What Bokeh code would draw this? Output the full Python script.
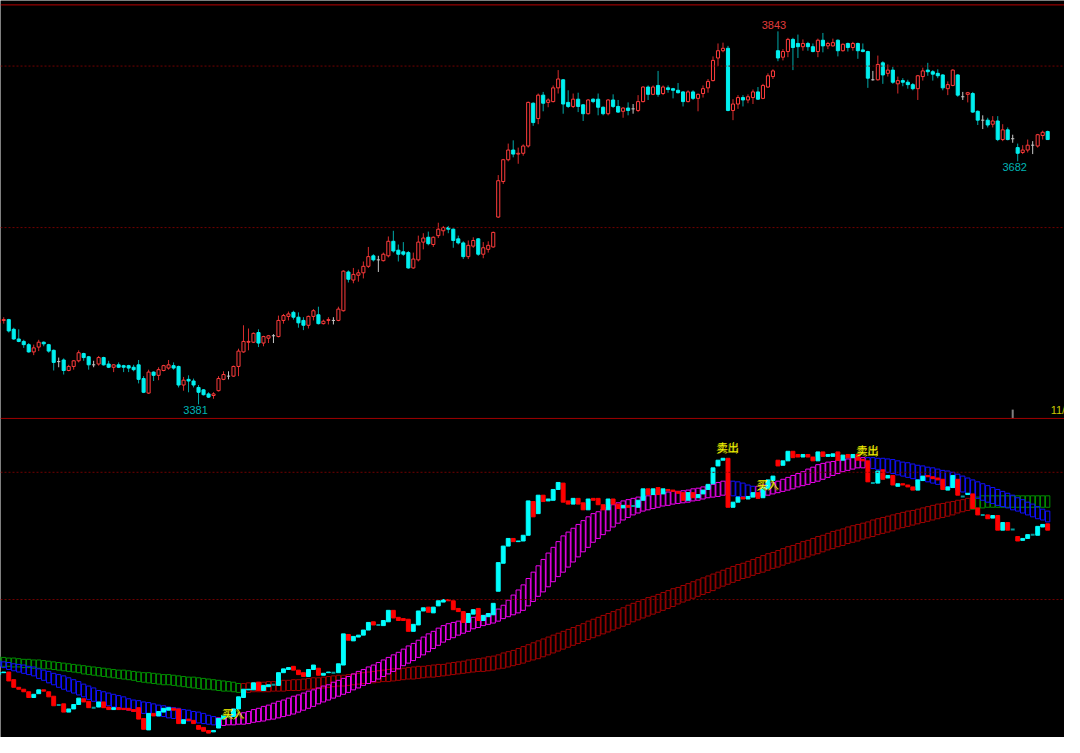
from bokeh.plotting import figure
from bokeh.models import Span, Range1d, ColumnDataSource
from bokeh.embed import file_html
from bokeh.resources import INLINE
from bokeh.core.properties import value

# ---------------- data (daily OHLC) ----------------
opens = [3482, 3485, 3486, 3474, 3462, 3459, 3455, 3446, 3452, 3458,
         3455, 3448, 3434, 3436, 3423, 3428, 3435, 3444, 3440, 3430,
         3431, 3439, 3431, 3427, 3430, 3429, 3429, 3427, 3430, 3413,
         3395, 3421, 3417, 3423, 3426, 3429, 3428, 3405, 3412, 3410,
         3402, 3399, 3394, 3392, 3398, 3412, 3416, 3416, 3428, 3446,
         3458, 3458, 3470, 3457, 3463, 3466, 3465, 3485, 3490, 3495,
         3489, 3485, 3479, 3490, 3492, 3481, 3485, 3485, 3485, 3497,
         3545, 3535, 3541, 3544, 3552, 3565, 3560, 3559, 3565, 3583,
         3572, 3570, 3569, 3550, 3560, 3582, 3588, 3579, 3590, 3596,
         3600, 3598, 3586, 3581, 3564, 3577, 3586, 3567, 3573, 3576,
         3613, 3657, 3684, 3696, 3691, 3692, 3701, 3754, 3735, 3764,
         3755, 3756, 3773, 3783, 3755, 3750, 3759, 3752, 3741, 3759,
         3759, 3749, 3741, 3758, 3750, 3744, 3748, 3747, 3745, 3756,
         3774, 3765, 3776, 3766, 3773, 3772, 3770, 3768, 3756, 3768,
         3760, 3766, 3773, 3782, 3810, 3819, 3822, 3745, 3753, 3761,
         3758, 3761, 3768, 3760, 3774, 3787, 3819, 3811, 3818, 3833,
         3828, 3824, 3828, 3824, 3818, 3832, 3825, 3825, 3832, 3819,
         3828, 3823, 3828, 3820, 3818, 3783, 3783, 3804, 3791, 3795,
         3778, 3782, 3780, 3777, 3772, 3787, 3795, 3793, 3791, 3789,
         3772, 3776, 3789, 3762, 3765, 3766, 3744, 3733, 3733, 3728,
         3732, 3709, 3721, 3710, 3699, 3693, 3696, 3702, 3701, 3714,
         3719]
highs = [3489, 3489, 3487, 3476, 3474, 3461, 3457, 3455, 3461, 3459,
         3456, 3449, 3439, 3438, 3430, 3436, 3448, 3445, 3441, 3435,
         3441, 3440, 3435, 3431, 3433, 3430, 3430, 3430, 3436, 3416,
         3424, 3422, 3427, 3430, 3436, 3433, 3429, 3415, 3417, 3413,
         3405, 3400, 3396, 3396, 3416, 3422, 3422, 3429, 3450, 3479,
         3475, 3470, 3474, 3466, 3467, 3468, 3491, 3493, 3496, 3497,
         3495, 3489, 3491, 3499, 3502, 3486, 3489, 3489, 3502, 3547,
         3547, 3550, 3548, 3558, 3576, 3567, 3565, 3569, 3589, 3596,
         3579, 3582, 3571, 3569, 3590, 3593, 3595, 3589, 3606, 3602,
         3602, 3599, 3590, 3583, 3584, 3588, 3587, 3582, 3583, 3595,
         3665, 3685, 3704, 3708, 3699, 3703, 3756, 3755, 3766, 3768,
         3760, 3776, 3795, 3784, 3770, 3766, 3767, 3753, 3759, 3760,
         3766, 3750, 3759, 3765, 3758, 3749, 3755, 3753, 3764, 3775,
         3776, 3776, 3794, 3776, 3776, 3773, 3779, 3769, 3770, 3770,
         3766, 3776, 3784, 3812, 3828, 3829, 3825, 3759, 3764, 3764,
         3765, 3771, 3774, 3778, 3791, 3796, 3843, 3821, 3835, 3835,
         3839, 3833, 3830, 3828, 3834, 3841, 3830, 3834, 3833, 3828,
         3829, 3830, 3829, 3828, 3819, 3794, 3813, 3806, 3802, 3799,
         3787, 3785, 3783, 3779, 3789, 3798, 3804, 3795, 3796, 3790,
         3781, 3796, 3790, 3768, 3768, 3768, 3745, 3739, 3736, 3738,
         3738, 3728, 3724, 3715, 3704, 3702, 3709, 3707, 3716, 3720,
         3720]
lows = [3480, 3481, 3470, 3461, 3458, 3451, 3445, 3442, 3447, 3453,
        3445, 3423, 3427, 3418, 3422, 3424, 3433, 3435, 3424, 3427,
        3429, 3429, 3426, 3421, 3426, 3421, 3421, 3422, 3407, 3395,
        3394, 3410, 3411, 3422, 3424, 3424, 3402, 3398, 3396, 3402,
        3381, 3392, 3389, 3388, 3397, 3411, 3412, 3415, 3416, 3445,
        3448, 3457, 3452, 3453, 3457, 3457, 3464, 3481, 3485, 3486,
        3476, 3473, 3475, 3485, 3480, 3480, 3480, 3480, 3484, 3496,
        3532, 3531, 3533, 3537, 3550, 3558, 3545, 3558, 3563, 3569,
        3558, 3565, 3549, 3549, 3558, 3573, 3578, 3576, 3587, 3590,
        3593, 3575, 3579, 3561, 3561, 3575, 3565, 3562, 3569, 3575,
        3612, 3654, 3682, 3687, 3679, 3689, 3699, 3726, 3728, 3744,
        3749, 3755, 3766, 3741, 3748, 3748, 3743, 3732, 3740, 3754,
        3739, 3739, 3739, 3748, 3742, 3736, 3739, 3741, 3743, 3755,
        3758, 3764, 3762, 3764, 3767, 3760, 3766, 3750, 3755, 3758,
        3744, 3761, 3767, 3781, 3800, 3817, 3744, 3733, 3747, 3750,
        3754, 3753, 3758, 3759, 3773, 3784, 3806, 3807, 3811, 3795,
        3810, 3819, 3819, 3817, 3811, 3817, 3821, 3824, 3812, 3818,
        3818, 3819, 3809, 3817, 3773, 3782, 3782, 3778, 3787, 3778,
        3766, 3775, 3772, 3770, 3758, 3782, 3788, 3782, 3785, 3770,
        3764, 3775, 3762, 3758, 3755, 3742, 3727, 3722, 3724, 3724,
        3707, 3707, 3708, 3705, 3682, 3691, 3693, 3691, 3699, 3709,
        3709]
closes = [3486, 3486, 3472, 3462, 3459, 3455, 3446, 3451, 3458, 3456,
          3447, 3433, 3434, 3423, 3428, 3435, 3445, 3439, 3430, 3430,
          3439, 3430, 3427, 3430, 3427, 3427, 3426, 3424, 3412, 3396,
          3421, 3417, 3424, 3429, 3430, 3426, 3405, 3411, 3410, 3405,
          3396, 3393, 3390, 3394, 3413, 3418, 3416, 3428, 3447, 3459,
          3459, 3469, 3457, 3465, 3466, 3466, 3485, 3491, 3493, 3489,
          3482, 3479, 3490, 3497, 3481, 3484, 3486, 3485, 3499, 3546,
          3536, 3542, 3544, 3552, 3564, 3560, 3560, 3567, 3583, 3571,
          3567, 3567, 3550, 3561, 3582, 3587, 3580, 3588, 3598, 3600,
          3598, 3584, 3581, 3564, 3578, 3584, 3567, 3575, 3578, 3594,
          3658, 3684, 3696, 3691, 3692, 3701, 3755, 3730, 3764, 3754,
          3758, 3773, 3784, 3753, 3750, 3759, 3750, 3741, 3758, 3756,
          3749, 3741, 3758, 3750, 3743, 3748, 3745, 3747, 3756, 3774,
          3765, 3774, 3765, 3774, 3771, 3770, 3767, 3756, 3768, 3760,
          3765, 3772, 3781, 3807, 3819, 3822, 3745, 3753, 3761, 3758,
          3762, 3768, 3759, 3776, 3788, 3794, 3810, 3818, 3833, 3823,
          3824, 3828, 3824, 3818, 3832, 3825, 3828, 3829, 3819, 3827,
          3823, 3828, 3819, 3818, 3785, 3783, 3802, 3789, 3795, 3780,
          3782, 3780, 3777, 3772, 3788, 3794, 3793, 3790, 3788, 3773,
          3777, 3795, 3764, 3762, 3767, 3743, 3733, 3733, 3727, 3732,
          3709, 3721, 3709, 3710, 3692, 3696, 3702, 3702, 3715, 3718,
          3709]

# short trend ribbon (upper / lower edge)
short_hi = [3504, 3502, 3501, 3499, 3498, 3497, 3495, 3494, 3491, 3489,
            3487, 3484, 3482, 3480, 3477, 3474, 3471, 3467, 3464, 3461,
            3457, 3455, 3453, 3451, 3449, 3447, 3444, 3442, 3441, 3439,
            3438, 3436, 3434, 3433, 3431, 3430, 3429, 3427, 3426, 3424,
            3423, 3421, 3418, 3416, 3414, 3415, 3417, 3419, 3420, 3422,
            3424, 3427, 3429, 3432, 3434, 3437, 3440, 3442, 3445, 3448,
            3450, 3453, 3456, 3458, 3461, 3464, 3466, 3470, 3473, 3476,
            3479, 3483, 3487, 3490, 3494, 3497, 3501, 3505, 3509, 3513,
            3517, 3522, 3527, 3531, 3536, 3541, 3546, 3550, 3555, 3559,
            3562, 3564, 3566, 3568, 3570, 3572, 3574, 3575, 3577, 3579,
            3585, 3591, 3599, 3607, 3615, 3623, 3633, 3643, 3653, 3663,
            3673, 3682, 3691, 3700, 3706, 3712, 3718, 3724, 3730, 3735,
            3738, 3742, 3745, 3749, 3752, 3755, 3757, 3759, 3761, 3762,
            3763, 3765, 3766, 3767, 3769, 3770, 3770, 3771, 3772, 3774,
            3775, 3777, 3779, 3781, 3784, 3786, 3787, 3786, 3785, 3783,
            3780, 3778, 3778, 3780, 3781, 3784, 3786, 3789, 3792, 3795,
            3798, 3801, 3805, 3808, 3812, 3814, 3816, 3817, 3819, 3820,
            3821, 3823, 3823, 3823, 3823, 3823, 3822, 3822, 3821, 3820,
            3818, 3816, 3815, 3813, 3811, 3810, 3808, 3807, 3805, 3803,
            3802, 3800, 3797, 3794, 3791, 3788, 3785, 3782, 3779, 3776,
            3773, 3770, 3767, 3764, 3760, 3757, 3753, 3750, 3746, 3742,
            3739]
short_lo = [3495, 3493, 3490, 3488, 3486, 3484, 3482, 3480, 3476, 3473,
            3469, 3466, 3462, 3459, 3456, 3453, 3450, 3447, 3443, 3440,
            3437, 3435, 3433, 3431, 3430, 3428, 3426, 3424, 3423, 3421,
            3420, 3419, 3417, 3416, 3414, 3413, 3412, 3410, 3409, 3407,
            3406, 3405, 3404, 3403, 3402, 3402, 3403, 3403, 3404, 3404,
            3405, 3407, 3408, 3409, 3411, 3412, 3414, 3416, 3418, 3420,
            3423, 3426, 3429, 3432, 3436, 3439, 3442, 3445, 3448, 3451,
            3454, 3458, 3461, 3465, 3468, 3471, 3475, 3479, 3483, 3487,
            3491, 3496, 3500, 3504, 3509, 3513, 3518, 3523, 3528, 3533,
            3537, 3540, 3544, 3547, 3550, 3554, 3556, 3559, 3561, 3563,
            3566, 3570, 3573, 3576, 3579, 3583, 3590, 3597, 3605, 3612,
            3620, 3628, 3636, 3643, 3651, 3659, 3667, 3675, 3682, 3690,
            3696, 3702, 3708, 3714, 3720, 3725, 3729, 3733, 3736, 3739,
            3741, 3743, 3745, 3747, 3748, 3750, 3751, 3752, 3753, 3755,
            3756, 3758, 3760, 3761, 3762, 3764, 3764, 3763, 3762, 3762,
            3762, 3762, 3762, 3763, 3764, 3766, 3768, 3770, 3772, 3774,
            3777, 3779, 3781, 3784, 3786, 3789, 3792, 3795, 3798, 3801,
            3803, 3805, 3807, 3807, 3808, 3806, 3804, 3802, 3800, 3798,
            3796, 3794, 3792, 3790, 3788, 3787, 3785, 3783, 3781, 3779,
            3777, 3776, 3772, 3769, 3766, 3763, 3759, 3756, 3753, 3751,
            3748, 3746, 3744, 3741, 3739, 3736, 3733, 3730, 3727, 3725,
            3722]
# long trend ribbon (upper / lower edge)
long_hi = [3510, 3509, 3508, 3508, 3507, 3506, 3506, 3505, 3505, 3504,
           3503, 3502, 3501, 3500, 3499, 3498, 3497, 3496, 3495, 3494,
           3493, 3492, 3491, 3490, 3489, 3489, 3488, 3487, 3486, 3485,
           3485, 3484, 3483, 3482, 3482, 3481, 3480, 3479, 3478, 3478,
           3477, 3476, 3475, 3474, 3473, 3472, 3471, 3470, 3468, 3468,
           3469, 3469, 3470, 3470, 3471, 3471, 3472, 3473, 3473, 3474,
           3474, 3475, 3476, 3477, 3477, 3478, 3479, 3480, 3481, 3481,
           3482, 3483, 3484, 3485, 3486, 3487, 3488, 3489, 3490, 3491,
           3491, 3492, 3493, 3494, 3495, 3495, 3496, 3497, 3498, 3498,
           3500, 3501, 3502, 3503, 3505, 3506, 3507, 3508, 3510, 3511,
           3513, 3516, 3518, 3520, 3523, 3526, 3529, 3532, 3535, 3538,
           3541, 3544, 3547, 3550, 3553, 3556, 3559, 3562, 3566, 3569,
           3572, 3575, 3578, 3581, 3584, 3587, 3591, 3594, 3597, 3600,
           3603, 3605, 3608, 3611, 3614, 3617, 3619, 3622, 3625, 3628,
           3631, 3634, 3637, 3640, 3643, 3646, 3649, 3652, 3655, 3657,
           3660, 3663, 3666, 3669, 3672, 3674, 3677, 3680, 3683, 3685,
           3688, 3691, 3693, 3696, 3699, 3701, 3704, 3707, 3709, 3711,
           3714, 3716, 3718, 3720, 3722, 3725, 3727, 3729, 3731, 3733,
           3735, 3737, 3739, 3740, 3742, 3744, 3746, 3748, 3750, 3751,
           3753, 3754, 3756, 3757, 3759, 3760, 3761, 3763, 3763, 3763,
           3763, 3763, 3763, 3763, 3763, 3763, 3763, 3763, 3763, 3763,
           3763]
long_lo = [3496, 3495, 3495, 3494, 3494, 3493, 3493, 3492, 3492, 3491,
           3491, 3490, 3489, 3488, 3487, 3486, 3485, 3483, 3482, 3481,
           3480, 3479, 3478, 3477, 3476, 3475, 3474, 3473, 3471, 3470,
           3469, 3468, 3467, 3466, 3466, 3465, 3464, 3463, 3462, 3461,
           3460, 3459, 3459, 3458, 3457, 3456, 3456, 3455, 3454, 3454,
           3454, 3455, 3455, 3455, 3455, 3456, 3456, 3456, 3457, 3457,
           3457, 3458, 3459, 3460, 3460, 3461, 3462, 3463, 3464, 3464,
           3465, 3466, 3467, 3468, 3468, 3469, 3470, 3471, 3471, 3472,
           3473, 3474, 3475, 3475, 3476, 3477, 3478, 3478, 3479, 3480,
           3481, 3482, 3483, 3484, 3485, 3486, 3487, 3487, 3488, 3489,
           3491, 3492, 3494, 3496, 3498, 3500, 3503, 3505, 3507, 3510,
           3513, 3516, 3519, 3522, 3525, 3528, 3531, 3534, 3537, 3540,
           3543, 3546, 3549, 3552, 3555, 3558, 3561, 3565, 3568, 3571,
           3574, 3577, 3580, 3583, 3586, 3589, 3593, 3596, 3599, 3602,
           3605, 3608, 3611, 3614, 3618, 3621, 3624, 3627, 3630, 3633,
           3635, 3638, 3641, 3643, 3646, 3649, 3651, 3654, 3657, 3659,
           3662, 3664, 3667, 3670, 3672, 3675, 3678, 3680, 3683, 3685,
           3688, 3690, 3692, 3695, 3697, 3699, 3702, 3704, 3706, 3708,
           3711, 3713, 3715, 3717, 3719, 3721, 3723, 3725, 3727, 3729,
           3731, 3733, 3736, 3738, 3740, 3742, 3743, 3744, 3745, 3745,
           3745, 3745, 3745, 3745, 3745, 3745, 3745, 3745, 3745, 3745,
           3745]

short_down_spans = [(0, 43), (146, 151), (174, 210)]   # ribbon drawn blue
long_down_spans = [(0, 48), (195, 210)]                # ribbon drawn green

high_label_idx = 156
low_label_idx = [40, 204]
sell_idx = [146, 174]
buy_idx = [47, 154]
date_tick_idx = [203]
date_text = "11/"
grid_prices = [3800, 3600]

# ---------------- layout constants ----------------
W, H = 1064, 737
REF_H = 753.0
X0, X1 = 0.35, 213.37
TOP_HI, TOP_PPX = 3881.2, 1.2121       # price at top edge, price per ref pixel
BOT_HI, BOT_PPX = 4541.6, 1.5385
TOP_LO = TOP_HI - REF_H * TOP_PPX
BOT_LO = BOT_HI - REF_H * BOT_PPX

BG = "#000000"
UP_RED = "#ff3c3c"
UP_WICK = "#d82c2c"
DN_CYAN = "#00f0f0"
DN_WICK = "#00a8a8"
DOJI = "#c8c8c8"
GRID = "#700000"
YELLOW = "#f0f000"

n = len(opens)
idx = list(range(n))

def in_spans(i, spans):
    return any(a <= i <= b for a, b in spans)

def split(cond):
    s = [i for i in idx if cond(i)]
    return ColumnDataSource(dict(
        x=s,
        o=[opens[i] for i in s], c=[closes[i] for i in s],
        h=[highs[i] for i in s], l=[lows[i] for i in s],
        top=[max(opens[i], closes[i]) for i in s],
        bot=[min(opens[i], closes[i]) for i in s],
    ))

src_up = split(lambda i: closes[i] > opens[i])
src_dn = split(lambda i: closes[i] < opens[i])
src_dj = split(lambda i: closes[i] == opens[i])

p = figure(width=W, height=H, x_range=Range1d(X0, X1), y_range=Range1d(TOP_LO, TOP_HI),
           output_backend="svg", toolbar_location=None,
           background_fill_color=BG, border_fill_color=BG,
           min_border=0, outline_line_color=None)
p.extra_y_ranges = {"bot": Range1d(BOT_LO, BOT_HI)}
p.axis.visible = False
p.grid.visible = False

# frame lines and dotted price grid
p.add_layout(Span(location=TOP_HI - 4.5 * TOP_PPX, dimension="width",
                  line_color="#b80000", line_width=1))
p.add_layout(Span(location=TOP_HI - 427 * TOP_PPX, dimension="width",
                  line_color="#a00000", line_width=1))
for gp in grid_prices:
    p.add_layout(Span(location=gp, dimension="width", line_color=GRID,
                      line_width=1, line_dash="2 2"))
    p.add_layout(Span(location=gp, dimension="width", line_color=GRID,
                      line_width=1, line_dash="2 2", y_range_name="bot"))

# ---------------- top panel: candlesticks ----------------
p.segment(x0="x", y0="l", x1="x", y1="h", source=src_up, line_color=UP_WICK, line_width=1)
p.segment(x0="x", y0="l", x1="x", y1="h", source=src_dn, line_color=DN_WICK, line_width=1)
p.segment(x0="x", y0="l", x1="x", y1="h", source=src_dj, line_color=DOJI, line_width=1)
p.vbar(x="x", width=0.62, top="top", bottom="bot", source=src_up,
       fill_color=BG, line_color=UP_RED, line_width=1)
p.vbar(x="x", width=0.62, top="top", bottom="bot", source=src_dn,
       fill_color=DN_CYAN, line_color=DN_CYAN, line_width=1)
dj = src_dj.data
p.segment(x0=[x - 0.32 for x in dj["x"]], y0=dj["o"], x1=[x + 0.32 for x in dj["x"]],
          y1=dj["c"], line_color=DOJI, line_width=1)

lab_font = value("Liberation Sans")
p.text(x=[high_label_idx], y=[highs[high_label_idx]], text=[str(highs[high_label_idx])],
       text_color="#e03c3c", text_font=lab_font, text_font_size="11px",
       text_align="center", text_baseline="bottom", x_offset=-4, y_offset=-2)
p.text(x=low_label_idx, y=[lows[i] for i in low_label_idx],
       text=[str(lows[i]) for i in low_label_idx],
       text_color="#00b4b4", text_font=lab_font, text_font_size="11px",
       text_align="center", text_baseline="top", x_offset=-3, y_offset=2)
p.segment(x0=date_tick_idx, y0=[TOP_HI - 427 * TOP_PPX] * len(date_tick_idx),
          x1=date_tick_idx, y1=[TOP_HI - 418 * TOP_PPX] * len(date_tick_idx),
          line_color="#808080", line_width=2)
p.text(x=[n - 0.4], y=[TOP_HI - 425 * TOP_PPX], text=[date_text], text_color="#c8c800",
       text_font=lab_font, text_font_size="11px", text_align="left",
       text_baseline="bottom")

# ---------------- bottom panel: ribbons, bodies, signals ----------------
def ribbon(hi, lo, spans, c_down, c_up):
    for down, col in ((True, c_down), (False, c_up)):
        s = [i for i in idx if in_spans(i, spans) == down]
        p.vbar(x=s, width=0.86, top=[hi[i] for i in s], bottom=[lo[i] for i in s],
               fill_color=None, line_color=col, line_width=1, y_range_name="bot")

ribbon(long_hi, long_lo, long_down_spans, "#009000", "#a00000")
ribbon(short_hi, short_lo, short_down_spans, "#1010ff", "#f000f0")

p.vbar(x="x", width=0.78, top="top", bottom="bot", source=src_up,
       fill_color="#00ffff", line_color="#00ffff", line_width=1, y_range_name="bot")
p.vbar(x="x", width=0.78, top="top", bottom="bot", source=src_dn,
       fill_color="#ff0000", line_color="#ff0000", line_width=1, y_range_name="bot")
p.vbar(x="x", width=0.78, top="top", bottom="bot", source=src_dj,
       fill_color="#009c9c", line_color="#009c9c", line_width=2, y_range_name="bot")

cjk = value("Noto Sans CJK SC")
for col, dx, dy in (("#8a8a00", -1, 1), (YELLOW, 0, 0)):
    p.text(x=sell_idx, y=[max(opens[i], closes[i]) for i in sell_idx],
           text=["卖出"] * len(sell_idx), text_color=col, text_font=cjk,
           text_font_size="11px", text_align="center", text_baseline="bottom",
           x_offset=dx, y_offset=-3 + dy, y_range_name="bot")
    p.text(x=buy_idx, y=[(opens[i] + closes[i]) / 2 for i in buy_idx],
           text=["买入"] * len(buy_idx), text_color=col, text_font=cjk,
           text_font_size="11px", text_align="center", text_baseline="middle",
           x_offset=dx, y_offset=dy, y_range_name="bot")

open("out.html", "w").write(file_html(p, INLINE))
